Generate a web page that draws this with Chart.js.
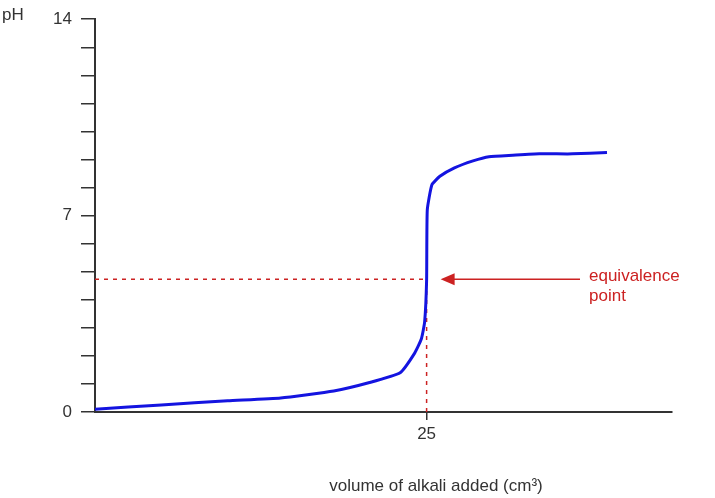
<!DOCTYPE html>
<html><head><meta charset="utf-8">
<script src="https://cdn.jsdelivr.net/npm/chart.js@4/dist/chart.umd.min.js"></script>
<style>html,body{margin:0;padding:0;background:#fff}#w{width:715px;height:498px}</style>
</head><body><div id="w"><canvas id="c"></canvas></div>
<script>
const volumes = [0, 5, 10, 14, 18, 20.7, 23.0, 24.1, 24.6, 24.85, 25.0, 25.05, 25.4, 26.0, 27.1, 28.5, 29.7, 31.5, 33.5, 36, 38.6];
const phValues = [0.1, 0.25, 0.4, 0.5, 0.75, 1.05, 1.4, 2.1, 2.6, 3.2, 4.7, 7.2, 8.1, 8.4, 8.7, 8.95, 9.1, 9.15, 9.2, 9.2, 9.25];
const equivVolume = 25;
const equivPH = 4.73;
const yTickLabels = [0, 7, 14];
const xTickLabels = [25];
const red = '#cc2222';
const font = {family:'"Liberation Sans", Arial, sans-serif', size:17};

const overlay = {
  id:'overlay',
  afterDraw(chart){
    const {ctx, scales:{x,y}} = chart;
    ctx.save();
    const py = y.getPixelForValue(equivPH);
    const ax0 = 580, ax1 = x.getPixelForValue(equivVolume)+14;
    ctx.strokeStyle = red; ctx.fillStyle = red; ctx.lineWidth = 1.5;
    ctx.beginPath(); ctx.moveTo(ax0, py); ctx.lineTo(ax1+10, py); ctx.stroke();
    ctx.beginPath(); ctx.moveTo(ax1, py); ctx.lineTo(ax1+14, py-6); ctx.lineTo(ax1+14, py+6); ctx.closePath(); ctx.fill();
    ctx.font = '17px "Liberation Sans", Arial, sans-serif';
    ctx.textBaseline = 'middle'; ctx.textAlign='left';
    ctx.fillText('equivalence', 589, py-3);
    ctx.fillText('point', 589, py+17);
    ctx.fillStyle = '#333';
    ctx.fillText('pH', 2, 15);
    ctx.textAlign='center';
    ctx.fillText('volume of alkali added (cm³)', 436, 486);
    ctx.restore();
  }
};

new Chart(document.getElementById('c'), {
  type:'line',
  data:{datasets:[
    {data: volumes.map((v,i)=>({x:v,y:phValues[i]})), borderColor:'#1414e0', borderWidth:3, pointRadius:0, tension:0.15},
    {data:[{x:0,y:equivPH},{x:equivVolume,y:equivPH}], borderColor:red, borderWidth:1.5, borderDash:[4,5], pointRadius:0},
    {data:[{x:equivVolume,y:0},{x:equivVolume,y:equivPH}], borderColor:red, borderWidth:1.5, borderDash:[4,5], pointRadius:0}
  ]},
  options:{
    responsive:true, maintainAspectRatio:false, animation:false,
    layout:{padding:{top:6,right:43,left:0,bottom:0}},
    plugins:{legend:{display:false},tooltip:{enabled:false}},
    scales:{
      x:{type:'linear', min:0, max:43.5,
        afterBuildTicks(s){ s.ticks = xTickLabels.map(v=>({value:v})); },
        afterFit(s){ s.height = 86; },
        grid:{drawOnChartArea:false, drawTicks:true, tickLength:8, color:'#333', lineWidth:1.5},
        border:{color:'#333', width:2},
        ticks:{color:'#333', font, padding:4, autoSkip:false}},
      y:{type:'linear', min:0, max:14,
        afterBuildTicks(s){ s.ticks = Array.from({length:15},(_,i)=>({value:i})); },
        afterFit(s){ s.width = 95; },
        grid:{drawOnChartArea:false, drawTicks:true, tickLength:14, color:'#333', lineWidth:1.5},
        border:{color:'#333', width:2},
        ticks:{color:'#333', font, padding:9, autoSkip:false,
          callback:(v)=> yTickLabels.includes(v) ? String(v) : ''}}
    }
  },
  plugins:[overlay]
});
</script></body></html>
